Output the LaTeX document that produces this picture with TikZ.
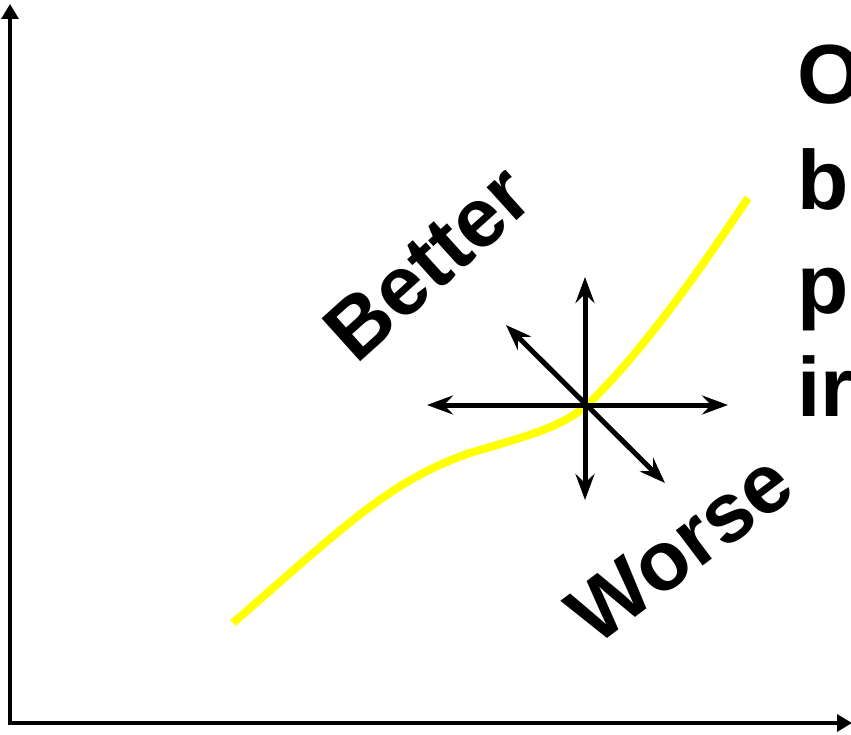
\documentclass[tikz,border=0pt]{standalone}
\usepackage{fontspec}
\setmainfont{Liberation Sans}
\usetikzlibrary{arrows.meta}
\definecolor{front}{HTML}{FFFF00}

\begin{document}
\begin{tikzpicture}[
  x=1pt, y=-1pt,
  axis/.style={-{Triangle[length=15pt,width=17pt]}, line width=3.4pt},
  move/.style={{Stealth[length=26pt,width=19pt,inset=9pt]}-{Stealth[length=26pt,width=19pt,inset=9pt]},
               line width=5pt},
  word/.style={inner sep=0pt, font=\fontsize{84}{96}\selectfont\bfseries},
  curve/.style={line width=8pt, front},
]
\clip (0,0) rectangle (851,735);
\useasboundingbox (0,0) rectangle (851,735);

% axes
\coordinate (origin) at (10,723);
\coordinate (ytop) at (10,4);
\coordinate (xend) at (852,723);
\draw[axis] (10,725) -- (ytop);
\draw[axis] (8,723) -- (xend);

% trade-off curve
\coordinate (start) at (233,623);
\coordinate (bend) at (470,453);
\coordinate (finish) at (748,198);
\draw[curve] (start) .. controls (340,530) and (390,480) .. (bend)
  .. controls (530,435) and (560,428) .. (587,405)
  .. controls (640,355) and (700,270) .. (finish);

% directions around the current point
\coordinate (here) at (585,405);
\coordinate (left) at (427,405);
\coordinate (right) at (728,405);
\coordinate (up) at (585,277);
\coordinate (down) at (585,500);
\coordinate (upleft) at (506,325);
\coordinate (downright) at (665,483);
\draw[move] (left) -- (right);
\draw[move] (up) -- (down);
\draw[move] (upleft) -- (downright);

\node[word, rotate=42] (better) at (428,263) {Better};
\node[word, rotate=37] (worse) at (680,548) {Worse};

% text cut at the right edge
\node[word, anchor=base west] (line1) at (797,104) {O};
\node[word, anchor=base west] (line2) at (797,210) {b};
\node[word, anchor=base west] (line3) at (797,313) {p};
\node[word, anchor=base west] (line4) at (797,416) {ir};
\end{tikzpicture}
\end{document}
